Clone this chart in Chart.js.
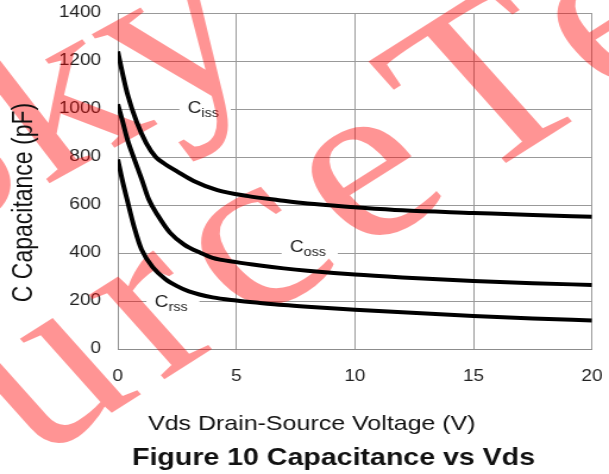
<!DOCTYPE html>
<html>
<head>
<meta charset="utf-8">
<script src="https://cdn.jsdelivr.net/npm/chart.js@4/dist/chart.umd.min.js"></script>
<style>
  html, body { margin: 0; padding: 0; background: #fff; overflow: hidden; }
  /* the figure is laid out on a 512px wide canvas and widened to the 609px page */
  #wrap { width: 512px; height: 474px; transform: scaleX(1.189453); transform-origin: 0 0; }
  canvas { display: block; }
</style>
</head>
<body>
<div id="wrap"><canvas id="chart" width="512" height="474"></canvas></div>
<script>
// Drain-source voltage (V) and capacitance (pF) for each curve
const vCiss = [0, 0.2, 0.4, 0.8, 1.2, 1.6, 2.0, 2.5, 3.2, 4.2, 5.5, 6.8, 8.0, 10, 12, 15, 17.5, 20];
const ciss  = [1240, 1148, 1065, 945, 858, 800, 770, 740, 700, 662, 637, 620, 606, 591, 578, 567, 558, 551];

const vCoss = [0, 0.2, 0.4, 0.7, 1.0, 1.3, 1.7, 2.2, 2.8, 3.5, 4.0, 5.0, 6.0, 7.0, 8.0, 10, 12, 15, 17.5, 20];
const coss  = [1020, 950, 875, 790, 710, 625, 555, 485, 435, 400, 380, 362, 348, 336, 326, 310, 298, 283, 274, 267];

const vCrss = [0, 0.2, 0.4, 0.7, 1.0, 1.5, 2.0, 2.5, 3.0, 4.0, 5.0, 6.0, 7.0, 8.0, 10, 12, 15, 17.5, 20];
const crss  = [790, 700, 620, 505, 415, 338, 292, 262, 240, 215, 202, 192, 183, 176, 164, 153, 138, 127, 119];

// Axis ranges and tick steps
const xTicks = [0, 5, 10, 15, 20];
const yTicks = [0, 200, 400, 600, 800, 1000, 1200, 1400];

// Curve names (main letter + subscript) and where each name sits, in axis units
const curveNames = [['C', 'iss'], ['C', 'oss'], ['C', 'rss']];
const nameAtV  = [2.95, 7.26, 1.56];
const nameAtPF = [1000, 421, 192];

const FONT = '"Liberation Sans", Arial, sans-serif';
const SERIF = '"Liberation Serif", "Times New Roman", serif';

function pts(xs, ys) { return xs.map((x, i) => ({ x: x, y: ys[i] })); }

// Translucent stamp lettering laid across the plot
function drawStamp(ctx, text, idx, target, angleDeg, size, spacing) {
  ctx.save();
  ctx.font = size + 'px ' + SERIF;
  if ('letterSpacing' in ctx) ctx.letterSpacing = spacing + 'px';
  const a = angleDeg * Math.PI / 180;
  const dir = [Math.cos(a), Math.sin(a)];
  const up = [Math.sin(a), -Math.cos(a)];
  const before = ctx.measureText(text.slice(0, idx)).width;
  const half = ctx.measureText(text[idx]).width / 2;
  const lift = size * 0.3;
  const ox = target[0] - (before + half) * dir[0] - lift * up[0];
  const oy = target[1] - (before + half) * dir[1] - lift * up[1];
  ctx.translate(ox, oy);
  ctx.rotate(a);
  ctx.fillStyle = 'rgba(255, 0, 0, 0.42)';
  ctx.textBaseline = 'alphabetic';
  ctx.textAlign = 'left';
  ctx.fillText(text, 0, 0);
  ctx.restore();
}

const decorations = {
  id: 'decorations',
  beforeDatasetsDraw(chart) {
    const ctx = chart.ctx;
    const xs = chart.scales.x, ys = chart.scales.y;
    // curve names, set on a white patch that breaks the grid line
    curveNames.forEach((nm, i) => {
      const x = xs.getPixelForValue(nameAtV[i]);
      const y = ys.getPixelForValue(nameAtPF[i]);
      ctx.save();
      ctx.font = '16px ' + FONT;
      const w1 = ctx.measureText(nm[0]).width;
      ctx.font = '12px ' + FONT;
      const w2 = ctx.measureText(nm[1]).width;
      ctx.fillStyle = '#fff';
      ctx.fillRect(x - 7, y - 9, w1 + w2 + 17, 20);
      ctx.fillStyle = '#1a1a1a';
      ctx.textAlign = 'left';
      ctx.textBaseline = 'middle';
      ctx.font = '16px ' + FONT;
      ctx.fillText(nm[0], x, y);
      ctx.font = '12px ' + FONT;
      ctx.fillText(nm[1], x + w1, y + 5);
      ctx.restore();
    });
    drawStamp(ctx, 'SourceTech', 6, [418, 82], -37, 230, 16);
    drawStamp(ctx, 'Sky', 2, [143, 35], -33, 230, 0);
  },
  afterDraw(chart) {
    const ctx = chart.ctx;
    ctx.save();
    ctx.fillStyle = '#111';
    ctx.textBaseline = 'middle';
    ctx.textAlign = 'left';
    ctx.font = '21px ' + FONT;
    ctx.fillText('Vds Drain-Source Voltage (V)', 124.4, 424);
    ctx.font = 'bold 24px ' + FONT;
    ctx.fillText('Figure 10 Capacitance vs Vds', 111, 458);
    ctx.translate(21, 202.5);
    ctx.rotate(-Math.PI / 2);
    ctx.textAlign = 'center';
    ctx.font = '23px ' + FONT;
    ctx.fillText('C Capacitance (pF)', 0, 0);
    ctx.restore();
  }
};

const lineStyle = {
  borderColor: '#000',
  borderWidth: 4,
  pointRadius: 0,
  fill: false,
  cubicInterpolationMode: 'monotone'
};

const tickFont = { family: FONT, size: 16 };

new Chart(document.getElementById('chart'), {
  type: 'line',
  data: {
    datasets: [
      Object.assign({ label: 'Ciss', data: pts(vCiss, ciss) }, lineStyle),
      Object.assign({ label: 'Coss', data: pts(vCoss, coss) }, lineStyle),
      Object.assign({ label: 'Crss', data: pts(vCrss, crss) }, lineStyle)
    ]
  },
  options: {
    responsive: false,
    animation: false,
    events: [],
    layout: { padding: { top: 13, right: 14.3, left: 0, bottom: 0 } },
    plugins: { legend: { display: false }, tooltip: { enabled: false } },
    scales: {
      x: {
        type: 'linear',
        min: xTicks[0],
        max: xTicks[xTicks.length - 1],
        afterBuildTicks(s) { s.ticks = xTicks.map(v => ({ value: v })); },
        ticks: { padding: 18, maxRotation: 0, color: '#222', font: tickFont, callback: v => String(v) },
        grid: { color: '#999', lineWidth: 1, drawTicks: false },
        border: { color: '#8c8c8c' },
        afterFit(s) { s.height = 125; s.paddingLeft = 0; s.paddingRight = 0; }
      },
      y: {
        type: 'linear',
        min: yTicks[0],
        max: yTicks[yTicks.length - 1],
        afterBuildTicks(s) { s.ticks = yTicks.map(v => ({ value: v })); },
        ticks: { padding: 14, color: '#222', font: tickFont, callback: v => String(v) },
        grid: { color: '#999', lineWidth: 1, drawTicks: false },
        border: { color: '#8c8c8c' },
        afterFit(s) { s.width = 99; s.paddingTop = 0; s.paddingBottom = 0; }
      }
    }
  },
  plugins: [decorations]
});
</script>
</body>
</html>
